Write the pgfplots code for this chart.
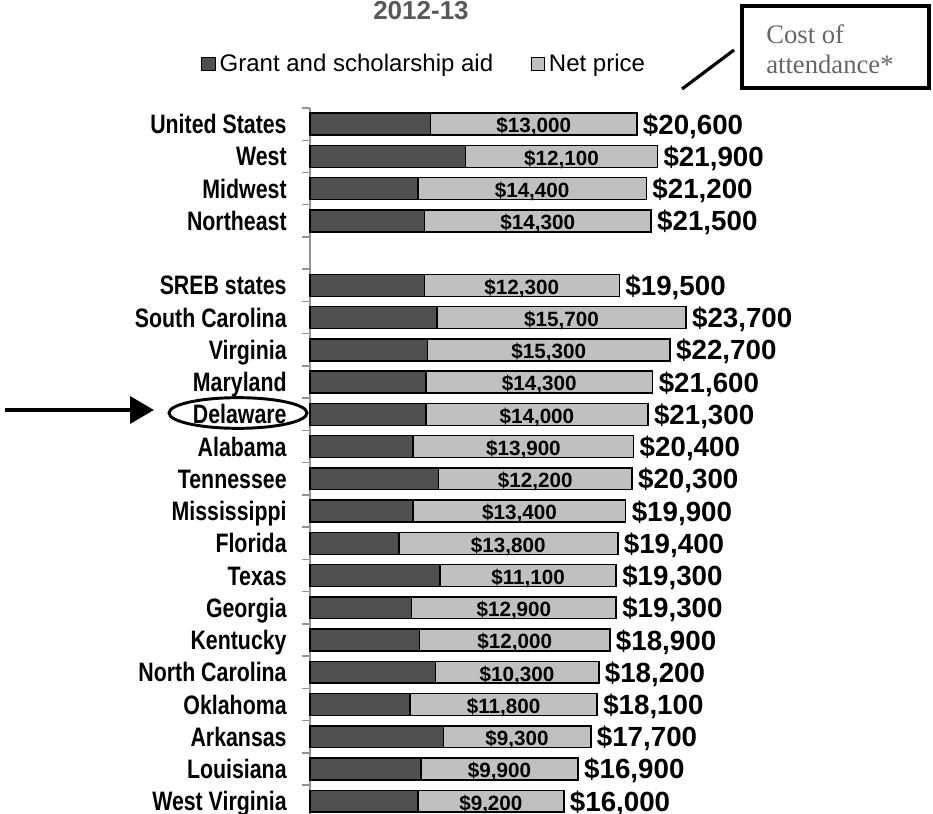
\documentclass[border=0pt]{standalone}
\usepackage{fontspec}
\setmainfont{Liberation Sans}
\newfontfamily\catfont[FakeStretch=0.8]{Liberation Sans}
\newfontfamily\serifnote{Liberation Serif}
\usepackage{pgfplots}
\usepackage{pgfplotstable}
\pgfplotsset{compat=1.18}
\usetikzlibrary{arrows.meta}
\definecolor{darkbar}{HTML}{505050}
\definecolor{lightbar}{HTML}{C0C0C0}
\definecolor{titlegray}{HTML}{595959}
\definecolor{notegray}{HTML}{666666}

\pgfplotstableread{
pos total net grant
0 20600 13000 7600
1 21900 12100 9800
2 21200 14400 6800
3 21500 14300 7200
5 19500 12300 7200
6 23700 15700 8000
7 22700 15300 7400
8 21600 14300 7300
9 21300 14000 7300
10 20400 13900 6500
11 20300 12200 8100
12 19900 13400 6500
13 19400 13800 5600
14 19300 11100 8200
15 19300 12900 6400
16 18900 12000 6900
17 18200 10300 7900
18 18100 11800 6300
19 17700 9300 8400
20 16900 9900 7000
21 16000 9200 6800
}\data

\begin{document}
\begin{tikzpicture}
\useasboundingbox (0,0) rectangle (699.75pt,-610.5pt);
\begin{axis}[
  at={(232.5pt,-81pt)}, anchor=north west,
  scale only axis,
  width=357pt, height=532pt,
  xmin=0, xmax=30000,
  ymin=-0.5, ymax=21.5,
  enlargelimits=false,
  y dir=reverse,
  clip=false,
  axis x line=none,
  axis y line*=left,
  axis line style={-, draw=gray!85, line width=1.1pt},
  ytick={0,1,2,3,5,6,7,8,9,10,11,12,13,14,15,16,17,18,19,20,21},
  yticklabels={United States,West,Midwest,Northeast,SREB states,South Carolina,Virginia,Maryland,Delaware,Alabama,Tennessee,Mississippi,Florida,Texas,Georgia,Kentucky,North Carolina,Oklahoma,Arkansas,Louisiana,West Virginia},
  minor ytick={-0.5,0.5,...,21.5},
  major tick length=0pt,
  minor tick length=6pt,
  tick align=outside,
  ytick pos=left,
  minor tick style={draw=gray!85, line width=1.1pt},
  yticklabel style={font=\catfont\bfseries\fontsize{20}{21}\selectfont, xshift=-14pt,
    anchor=east, text height=14.4pt, text depth=0pt},
  /pgf/number format/.cd, fixed, 1000 sep={,}, assume math mode=true,
  /pgfplots/.cd,
  legend style={at={(0.2405,1.062)}, anchor=center, draw=none, fill=none,
    legend columns=2, font=\fontsize{18}{19}\selectfont, inner sep=0pt,
    /tikz/every even column/.append style={column sep=26pt}},
]
\addlegendimage{legend image code/.code={\draw[fill=darkbar,draw=black,line width=0.8pt] (0pt,-5pt) rectangle (10pt,5pt);}}
\addlegendentry{\hspace{1pt}Grant and scholarship aid}
\addlegendimage{legend image code/.code={\draw[fill=lightbar,draw=black,line width=0.8pt] (0pt,-5pt) rectangle (10pt,5pt);}}
\addlegendentry{\hspace{1pt}Net price}

% full bar = cost of attendance (light), with total label
\addplot[xbar, bar width=0.68, bar shift=0pt, fill=lightbar, draw=black, line width=1.1pt,
  nodes near coords={\$\pgfmathprintnumber{\pgfplotspointmeta}},
  point meta=explicit,
  every node near coord/.append style={anchor=west, inner sep=1pt, xshift=3pt,
    text height=15pt, text depth=0pt,
    font=\bfseries\fontsize{20.8}{22}\selectfont, text=black}]
  table[x=total, y=pos, meta=total] {\data};
% grant part (dark)
\addplot[xbar, bar width=0.68, bar shift=0pt, fill=darkbar, draw=black, line width=1.1pt]
  table[x=grant, y=pos] {\data};
% net price labels centred in the light segment
\addplot[only marks, mark=*, mark size=0pt, draw=none,
  nodes near coords={\$\pgfmathprintnumber{\pgfplotspointmeta}},
  point meta=explicit,
  every node near coord/.append style={anchor=center, yshift=-1pt, inner sep=0pt,
    text height=11.2pt, text depth=0pt,
    font=\bfseries\fontsize{15.5}{16}\selectfont, text=black}]
  table[x expr=\thisrow{grant}+\thisrow{net}/2, y=pos, meta=net] {\data};
\end{axis}

\begin{scope}[x=0.75pt, y=-0.75pt]
  % title
  \node[font=\bfseries\fontsize{19.5}{20}\selectfont, text=titlegray] at (421,11) {2012-13};
  % annotation box
  \draw[line width=2.4pt] (742,6) rectangle (929,88);
  \node[anchor=base west, align=left, inner sep=0pt, text=notegray,
    font=\serifnote\fontsize{20}{22.5}\selectfont] at (766,73) {Cost of\\attendance*};
  \draw[line width=2.4pt] (682,89) -- (734,50);
  % arrow and ellipse
  \draw[line width=3.6pt, -{Triangle[length=18pt,width=20pt]}] (5,410) -- (154,410);
  \draw[line width=2.2pt] (238,413) ellipse [x radius=51.75pt, y radius=11.5pt];
\end{scope}
\end{tikzpicture}
\end{document}
